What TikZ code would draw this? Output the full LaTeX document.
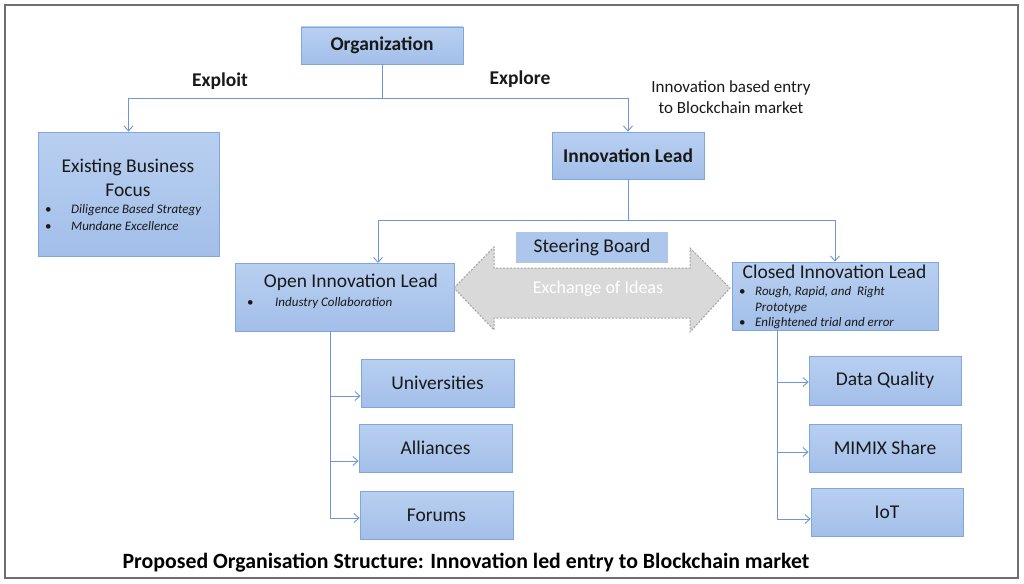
\documentclass[tikz,border=0pt]{standalone}
\usepackage{fontspec}
\setmainfont{Carlito}
\usetikzlibrary{arrows.meta}
\definecolor{boxtop}{RGB}{184,207,240}
\definecolor{boxbot}{RGB}{163,191,233}
\definecolor{boxline}{RGB}{128,166,224}
\definecolor{steerfill}{RGB}{172,198,236}
\definecolor{conncol}{RGB}{110,150,220}
\definecolor{txt}{RGB}{25,25,25}
\definecolor{arrfill}{RGB}{217,217,217}
\definecolor{arrline}{RGB}{165,165,165}
\definecolor{framecol}{RGB}{110,110,110}
\begin{document}
\begin{tikzpicture}[x=1pt,y=-1pt,
  box/.style={draw=boxline, line width=0.8pt, top color=boxtop, bottom color=boxbot, inner sep=0pt},
  conn/.style={draw=conncol, line width=0.9pt, -{Straight Barb[length=5pt,width=9pt]}},
  trunk/.style={draw=conncol, line width=0.9pt},
  big/.style={font=\fontsize{19.5}{24}\selectfont, text=txt, inner sep=0pt},
  bigb/.style={font=\fontsize{19.5}{24}\selectfont\bfseries, text=txt, inner sep=0pt},
  itm/.style={font=\fontsize{13}{15.5}\selectfont\itshape, text=txt, inner sep=0pt, anchor=west},
  xarrow/.style={fill=arrfill, draw=arrline, line width=1pt, dash pattern=on 2pt off 1.5pt}
]
\useasboundingbox (0,0) rectangle (1024,583);
\fill[white] (0,0) rectangle (1024,583);
\draw[draw=framecol, line width=1.3pt] (5,5) rectangle (1018,578);

% top
\node[box, bigb, minimum width=162pt, minimum height=37pt] (org) at (382,45.5) {Organization};
\node[bigb] (exploit) at (220,81) {Exploit};
\node[bigb] (explore) at (520,79) {Explore};
\node[font=\fontsize{17}{21}\selectfont, text=txt, align=center, inner sep=0pt] (note) at (731,97.5) {Innovation based entry\\to Blockchain market};

% existing business
\node[box, minimum width=181pt, minimum height=124pt] (exist) at (128.5,194) {};
\node[big, align=center] (existt) at (128,178) {Existing Business\\Focus};
\node[itm] (eb1) at (45,210) {\makebox[26pt][l]{\upshape\textbullet}Diligence Based Strategy};
\node[itm] (eb2) at (45,226) {\makebox[26pt][l]{\upshape\textbullet}Mundane Excellence};

% innovation lead
\node[box, bigb, minimum width=152pt, minimum height=47pt] (innov) at (628,155.5) {Innovation Lead};

% exchange arrow
\path[xarrow] (454,288) -- (494,247) -- (494,268) -- (690,268) -- (690,248) -- (730,288) -- (690,332) -- (690,318) -- (494,318) -- (494,330) -- cycle;
\node[font=\fontsize{18}{22}\selectfont, text=white, inner sep=0pt] (xch) at (598,289) {Exchange of Ideas};
\node[fill=steerfill, big, minimum width=152pt, minimum height=31pt] (steer) at (592,247.5) {Steering Board};

% open innovation
\node[box, minimum width=219pt, minimum height=68pt] (open) at (344.5,297) {};
\node[big] (opent) at (351,282) {Open Innovation Lead};
\node[itm] (ob1) at (247,303) {\makebox[28pt][l]{\upshape\textbullet}Industry Collaboration};

% closed innovation
\node[box, minimum width=206pt, minimum height=68pt] (closed) at (835,296) {};
\node[big] (closedt) at (834.5,272) {Closed Innovation Lead};
\node[itm] (cb1) at (739,292) {\makebox[16pt][l]{\upshape\textbullet}Rough, Rapid, and \ Right};
\node[itm] (cb2) at (755,308) {Prototype};
\node[itm] (cb3) at (739,323) {\makebox[16pt][l]{\upshape\textbullet}Enlightened trial and error};

% sub boxes
\node[box, big, minimum width=153pt, minimum height=48pt] (uni) at (437.5,383) {Universities};
\node[box, big, minimum width=153pt, minimum height=48pt] (all) at (435.5,448) {Alliances};
\node[box, big, minimum width=153pt, minimum height=48pt] (for) at (436.5,515) {Forums};
\node[box, big, minimum width=152pt, minimum height=49pt] (dq) at (885,380.5) {Data Quality};
\node[box, big, minimum width=152pt, minimum height=48pt] (mim) at (885,448) {MIMIX Share};
\node[box, big, minimum width=152pt, minimum height=48pt] (iot) at (887,512) {IoT};

% connectors
\coordinate (c1) at (382,98);
\draw[trunk] (org.south) -- (c1);
\draw[conn] (c1) -| (exist.north);
\draw[conn] (c1) -| (innov.north);
\coordinate (c2) at (628,220);
\coordinate (oin) at (378,263);
\draw[trunk] (innov.south) -- (c2);
\draw[conn] (c2) -| (closed.north);
\draw[conn] (c2) -| (oin);

\coordinate (ol) at (330,331);
\coordinate (u1) at (330,396);
\coordinate (a1) at (330,461);
\coordinate (f1) at (330,518);
\draw[conn] (ol) -- (f1) -- (f1 -| for.west);
\draw[conn] (u1) -- (u1 -| uni.west);
\draw[conn] (a1) -- (a1 -| all.west);

\coordinate (cl) at (777,330);
\coordinate (d1) at (777,382);
\coordinate (m1) at (777,452);
\coordinate (i1) at (777,519);
\draw[conn] (cl) -- (i1) -- (i1 -| iot.west);
\draw[conn] (d1) -- (d1 -| dq.west);
\draw[conn] (m1) -- (m1 -| mim.west);

% caption
\node[font=\fontsize{21.8}{26}\selectfont\bfseries, text=black, inner sep=0pt] (cap) at (466,563) {Proposed Organisation Structure: Innovation led entry to Blockchain market};
\end{tikzpicture}
\end{document}
